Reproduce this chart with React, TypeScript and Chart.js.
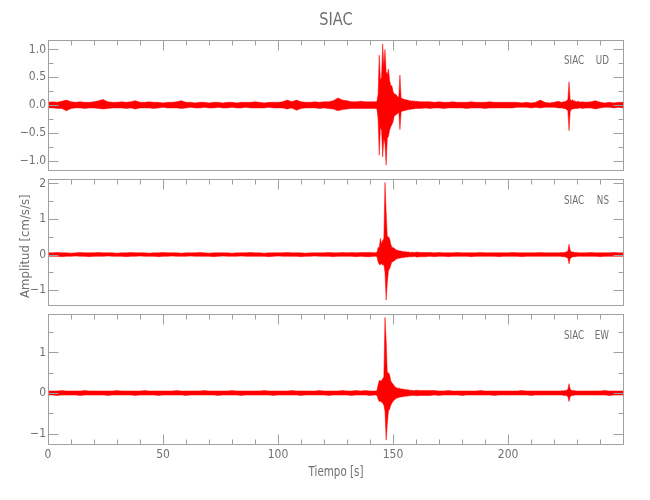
import React, { useEffect, useRef } from 'react';
import { Chart, registerables } from 'chart.js';

Chart.register(...registerables);

// ---- sampling of the trace envelopes (seconds) ----
const segStarts = [0, 142, 160, 222, 232];
const segSteps = [2, 0.5, 2, 0.5, 2];
const segCounts = [71, 36, 31, 20, 10];

// ---- UD component: upper / lower envelope of the trace (cm/s/s) ----
const udHi = [
  .05,.06,.05,.07,.09,.06,.05,.06,.05,.05, .06,.08,.10,.06,.05,.05,.06,.05,.06,.08,
  .05,.05,.06,.05,.05,.04,.05,.05,.06,.08, .05,.05,.04,.05,.05,.04,.05,.05,.04,.05,
  .05,.04,.05,.05,.05,.06,.05,.04,.05,.05, .05,.06,.09,.06,.09,.06,.05,.05,.06,.05,
  .06,.06,.08,.13,.09,.08,.06,.06,.07,.06, .06,
  .06,.06,.07,.2,.9,.45,.5,1.1,.7,1.0, .6,.55,.65,.45,.35,.35,.25,.2,.2,.18,
  .15,.14,.54,.13,.12,.11,.1,.1,.09,.09, .08,.08,.07,.08,.07,.07,
  .07,.06,.06,.06,.05,.06,.05,.05,.06,.05, .05,.05,.06,.05,.05,.05,.06,.05,.05,.05,
  .05,.05,.05,.04,.05,.04,.05,.09,.05,.04, .05,
  .07,.06,.05,.05,.06,.06,.07,.08,.1,.42, .1,.08,.1,.07,.08,.06,.06,.07,.06,.05,
  .06,.05,.06,.08,.05,.04,.05,.04,.05,.05,
];
const udLo = [
  -.05,-.05,-.06,-.06,-.10,-.06,-.05,-.05,-.06,-.05, -.05,-.06,-.07,-.06,-.05,-.05,-.05,-.06,-.05,-.07,
  -.05,-.05,-.05,-.06,-.05,-.04,-.05,-.05,-.05,-.06, -.05,-.04,-.05,-.05,-.04,-.05,-.05,-.04,-.05,-.05,
  -.04,-.05,-.05,-.04,-.05,-.05,-.05,-.05,-.04,-.05, -.05,-.05,-.07,-.05,-.09,-.06,-.05,-.05,-.05,-.06,
  -.05,-.06,-.07,-.10,-.08,-.07,-.06,-.06,-.06,-.06, -.06,
  -.06,-.06,-.07,-.25,-.9,-.4,-.45,-.93,-.6,-.7, -1.08,-.6,-.56,-.45,-.39,-.35,-.3,-.2,-.18,-.17,
  -.15,-.13,-.44,-.12,-.11,-.1,-.1,-.09,-.09,-.08, -.08,-.08,-.07,-.07,-.07,-.06,
  -.06,-.06,-.05,-.06,-.05,-.05,-.06,-.05,-.05,-.05, -.05,-.06,-.05,-.05,-.05,-.06,-.05,-.05,-.05,-.05,
  -.05,-.05,-.04,-.04,-.04,-.05,-.04,-.05,-.04,-.04, -.04,
  -.05,-.05,-.05,-.05,-.06,-.06,-.07,-.08,-.1,-.46, -.12,-.08,-.07,-.07,-.06,-.06,-.06,-.06,-.05,-.05,
  -.06,-.05,-.05,-.07,-.05,-.04,-.04,-.05,-.04,-.05,
];

// ---- NS component ----
const nsHi = [
  .05,.05,.06,.05,.05,.04,.05,.06,.05,.05, .05,.06,.05,.05,.05,.04,.05,.05,.06,.05,
  .05,.05,.04,.05,.05,.06,.05,.05,.05,.04, .05,.05,.05,.06,.05,.04,.05,.05,.05,.05,
  .04,.05,.05,.05,.06,.05,.05,.04,.05,.05, .05,.05,.06,.05,.05,.05,.04,.05,.05,.05,
  .05,.06,.05,.05,.06,.05,.06,.05,.06,.06, .06,
  .05,.06,.06,.2,.2,.46,.3,.4,.45,2.03, 1.2,.5,.5,.45,.3,.2,.2,.18,.15,.13,
  .12,.11,.1,.1,.09,.09,.08,.08,.07,.07, .07,.06,.06,.07,.06,.06,
  .07,.06,.06,.06,.05,.06,.05,.05,.05,.06, .05,.05,.05,.05,.06,.05,.05,.05,.05,.05,
  .05,.06,.05,.05,.05,.05,.05,.06,.05,.05, .05,
  .05,.05,.06,.05,.06,.06,.07,.08,.1,.29, .12,.08,.07,.07,.06,.06,.06,.05,.05,.05,
  .05,.05,.06,.05,.05,.05,.05,.06,.05,.05,
];
const nsLo = [
  -.05,-.05,-.05,-.06,-.05,-.05,-.04,-.05,-.05,-.06, -.05,-.05,-.05,-.04,-.05,-.05,-.05,-.06,-.05,-.05,
  -.04,-.05,-.05,-.05,-.06,-.05,-.05,-.04,-.05,-.05, -.05,-.04,-.05,-.05,-.05,-.05,-.06,-.05,-.04,-.05,
  -.05,-.05,-.04,-.05,-.05,-.05,-.05,-.05,-.06,-.05, -.04,-.05,-.05,-.05,-.05,-.06,-.05,-.05,-.04,-.05,
  -.05,-.05,-.06,-.05,-.05,-.05,-.05,-.06,-.05,-.06, -.06,
  -.05,-.05,-.06,-.2,-.28,-.28,-.25,-.3,-.28,-.5, -1.28,-.8,-.45,-.4,-.3,-.2,-.2,-.17,-.15,-.12,
  -.12,-.1,-.1,-.09,-.09,-.08,-.08,-.07,-.07,-.07, -.06,-.06,-.06,-.06,-.06,-.05,
  -.07,-.06,-.06,-.05,-.06,-.05,-.05,-.06,-.05,-.05, -.05,-.05,-.06,-.05,-.05,-.05,-.05,-.05,-.06,-.05,
  -.05,-.05,-.05,-.06,-.05,-.05,-.05,-.05,-.05,-.05, -.05,
  -.05,-.05,-.05,-.06,-.06,-.06,-.07,-.08,-.1,-.26, -.12,-.08,-.07,-.06,-.06,-.06,-.05,-.05,-.05,-.05,
  -.05,-.05,-.05,-.05,-.06,-.05,-.05,-.05,-.05,-.05,
];

// ---- EW component ----
const ewHi = [
  .05,.05,.05,.06,.05,.05,.05,.05,.06,.05, .05,.05,.05,.05,.05,.06,.05,.05,.05,.05,
  .05,.06,.05,.05,.05,.05,.05,.05,.06,.05, .05,.05,.05,.05,.06,.05,.05,.05,.05,.05,
  .06,.05,.05,.05,.05,.05,.05,.06,.05,.05, .05,.05,.05,.06,.05,.05,.05,.05,.05,.06,
  .05,.05,.05,.05,.06,.05,.05,.06,.05,.06, .05,
  .05,.05,.06,.2,.31,.3,.3,.35,.4,1.86, 1.3,.5,.5,.45,.3,.25,.22,.18,.15,.13,
  .12,.12,.11,.1,.1,.09,.09,.08,.08,.08, .07,.07,.07,.06,.06,.06,
  .07,.06,.06,.06,.06,.05,.05,.06,.05,.05, .05,.05,.05,.05,.06,.05,.05,.05,.05,.05,
  .05,.05,.05,.06,.05,.05,.05,.05,.05,.05, .05,
  .05,.05,.05,.06,.05,.06,.06,.07,.09,.23, .1,.07,.06,.06,.06,.05,.05,.05,.05,.05,
  .05,.05,.05,.05,.05,.06,.05,.05,.05,.05,
];
const ewLo = [
  -.05,-.05,-.06,-.05,-.05,-.05,-.05,-.06,-.05,-.05, -.05,-.05,-.05,-.06,-.05,-.05,-.05,-.05,-.05,-.06,
  -.05,-.05,-.05,-.05,-.06,-.05,-.05,-.05,-.05,-.05, -.06,-.05,-.05,-.05,-.05,-.05,-.05,-.06,-.05,-.05,
  -.05,-.05,-.06,-.05,-.05,-.05,-.05,-.05,-.05,-.06, -.05,-.05,-.05,-.05,-.05,-.06,-.05,-.05,-.05,-.05,
  -.05,-.06,-.05,-.05,-.05,-.05,-.06,-.05,-.05,-.05, -.06,
  -.05,-.05,-.06,-.15,-.21,-.2,-.22,-.25,-.3,-.45, -1.16,-.76,-.44,-.4,-.3,-.25,-.2,-.18,-.15,-.13,
  -.12,-.11,-.1,-.1,-.09,-.09,-.08,-.08,-.08,-.07, -.07,-.07,-.06,-.06,-.06,-.06,
  -.07,-.06,-.06,-.06,-.05,-.06,-.05,-.05,-.05,-.05, -.06,-.05,-.05,-.05,-.05,-.05,-.05,-.06,-.05,-.05,
  -.05,-.05,-.05,-.05,-.05,-.06,-.05,-.05,-.05,-.05, -.05,
  -.05,-.05,-.05,-.05,-.06,-.06,-.06,-.07,-.09,-.21, -.1,-.07,-.06,-.06,-.05,-.05,-.05,-.05,-.05,-.05,
  -.05,-.05,-.05,-.05,-.05,-.05,-.06,-.05,-.05,-.05,
];

// ---- axes ----
const xRange = [0, 250.4];
const xTicks = [0,10,20,30,40,50,60,70,80,90,100,110,120,130,140,150,160,170,180,190,200,210,220,230,240];
const xMajor = [0, 50, 100, 150, 200];
const xLabels = ['0', '50', '100', '150', '200'];

const udRange = [-1.18, 1.17];
const udTicks = [-1, -0.75, -0.5, -0.25, 0, 0.25, 0.5, 0.75, 1];
const udMajor = [-1, -0.5, 0, 0.5, 1];
const udLabels = ['\u22121.0', '\u22120.5', '0.0', '0.5', '1.0'];

const nsRange = [-1.44, 2.12];
const nsTicks = [-1, -0.5, 0, 0.5, 1, 1.5, 2];
const nsMajor = [-1, 0, 1, 2];
const nsLabels = ['\u22121', '0', '1', '2'];

const ewRange = [-1.28, 1.94];
const ewTicks = [-1, -0.5, 0, 0.5, 1, 1.5];
const ewMajor = [-1, 0, 1];
const ewLabels = ['\u22121', '0', '1'];

const stationName = 'SIAC';
const components = ['UD', 'NS', 'EW'];
const titleText = 'SIAC';
const xTitle = 'Tiempo [s]';
const yTitle = 'Amplitud [cm/s/s]';

// ---- styles ----
const RED = '#ff0000';
const AXIS = '#a0a0a0';
const TEXT = '#707070';
const FONT = "'Liberation Sans Narrow', 'DejaVu Sans Condensed', 'Arial Narrow', sans-serif";

const times: number[] = [];
segStarts.forEach((s, k) => {
  for (let i = 0; i < segCounts[k]; i++) times.push(s + i * segSteps[k]);
});
const toPts = (vals: number[]) => vals.map((v, i) => ({ x: times[i], y: v }));

type PanelCfg = {
  hi: number[]; lo: number[]; range: number[]; ticks: number[]; major: number[]; labels: string[];
  comp: string; top: number; height: number; padTop: number; padBottom: number;
  showX: boolean; xHeight: number; title?: boolean; yTitle?: boolean; xTitle?: boolean;
};

const panels: PanelCfg[] = [
  { hi: udHi, lo: udLo, range: udRange, ticks: udTicks, major: udMajor, labels: udLabels, comp: components[0],
    top: 0, height: 180, padTop: 40, padBottom: 4, showX: false, xHeight: 0, title: true },
  { hi: nsHi, lo: nsLo, range: nsRange, ticks: nsTicks, major: nsMajor, labels: nsLabels, comp: components[1],
    top: 170, height: 145, padTop: 5, padBottom: 4, showX: false, xHeight: 0, yTitle: true },
  { hi: ewHi, lo: ewLo, range: ewRange, ticks: ewTicks, major: ewMajor, labels: ewLabels, comp: components[2],
    top: 305, height: 195, padTop: 5, padBottom: 0, showX: true, xHeight: 55, xTitle: true },
];

function drawText(ctx: CanvasRenderingContext2D, text: string, x: number, y: number, size: number,
                  align: CanvasTextAlign, sx = 1, rot = 0) {
  ctx.save();
  ctx.translate(x, y);
  if (rot) ctx.rotate(rot);
  ctx.scale(sx, 1);
  ctx.font = `${size}px ${FONT}`;
  ctx.fillStyle = TEXT;
  ctx.textAlign = align;
  ctx.textBaseline = 'middle';
  ctx.fillText(text, 0, 0);
  ctx.restore();
}

function makeFramePlugin(cfg: PanelCfg) {
  return {
    id: 'seisFrame',
    afterDraw(chart: any) {
      const { ctx, chartArea: a, scales } = chart;
      const xs = scales.x, ys = scales.y;
      const L = Math.round(a.left) + 0.5, R = Math.round(a.right) - 0.5;
      const T = Math.round(a.top) + 0.5, B = Math.round(a.bottom) - 0.5;
      ctx.save();
      ctx.strokeStyle = AXIS;
      ctx.lineWidth = 1;
      ctx.strokeRect(L, T, R - L, B - T);
      ctx.beginPath();
      cfg.ticks.forEach((v) => {
        const py = Math.round(ys.getPixelForValue(v)) + 0.5;
        const len = cfg.major.includes(v) ? 10 : 5;
        ctx.moveTo(L, py); ctx.lineTo(L + len, py);
        ctx.moveTo(R, py); ctx.lineTo(R - len, py);
      });
      xTicks.forEach((v) => {
        const px = Math.round(xs.getPixelForValue(v)) + 0.5;
        const len = xMajor.includes(v) ? 10 : 5;
        ctx.moveTo(px, T); ctx.lineTo(px, T + len);
        if (cfg.showX) { ctx.moveTo(px, B); ctx.lineTo(px, B - len); }
      });
      ctx.stroke();
      ctx.restore();

      drawText(ctx, stationName, a.right - 60, a.top + 21, 13, 'left', 0.75);
      drawText(ctx, cfg.comp, a.right - 15, a.top + 21, 13, 'right', 0.75);
      if (cfg.title) drawText(ctx, titleText, (a.left + a.right) / 2, 20, 18, 'center', 0.9);
      if (cfg.yTitle) drawText(ctx, yTitle, 26, a.top + 67, 13, 'center', 1, -Math.PI / 2);
      if (cfg.xTitle) drawText(ctx, xTitle, (a.left + a.right) / 2, a.bottom + 27, 14, 'center', 0.82);
    },
  };
}

function Panel({ cfg }: { cfg: PanelCfg }) {
  const ref = useRef<HTMLCanvasElement | null>(null);
  useEffect(() => {
    if (!ref.current) return;
    const tickFont = { family: FONT, size: 12 };
    const chart = new Chart(ref.current, {
      type: 'line',
      data: {
        datasets: [
          { data: toPts(cfg.hi), borderColor: RED, backgroundColor: RED, borderWidth: 0.5,
            pointRadius: 0, fill: '+1', tension: 0 },
          { data: toPts(cfg.lo), borderColor: RED, backgroundColor: RED, borderWidth: 0.5,
            pointRadius: 0, fill: false, tension: 0 },
        ],
      } as any,
      options: {
        responsive: false,
        animation: false,
        events: [],
        layout: { padding: { top: cfg.padTop, bottom: cfg.padBottom, left: 0, right: 26 } },
        plugins: { legend: { display: false }, tooltip: { enabled: false }, title: { display: false } },
        scales: {
          x: {
            type: 'linear', min: xRange[0], max: xRange[1], display: cfg.showX,
            afterFit: (s: any) => { s.height = cfg.xHeight; },
            afterBuildTicks: (s: any) => { s.ticks = xMajor.map((v) => ({ value: v })); },
            ticks: {
              autoSkip: false, maxRotation: 0, padding: 3, font: tickFont, color: TEXT,
              callback: (v: any) => { const i = xMajor.indexOf(Number(v)); return i >= 0 ? xLabels[i] : ''; },
            },
            grid: { display: false, drawTicks: false },
            border: { display: false },
          },
          y: {
            type: 'linear', min: cfg.range[0], max: cfg.range[1],
            afterFit: (s: any) => { s.width = 48; },
            afterBuildTicks: (s: any) => { s.ticks = cfg.major.map((v) => ({ value: v })); },
            ticks: {
              autoSkip: false, padding: 2, font: tickFont, color: TEXT,
              callback: (v: any) => { const i = cfg.major.indexOf(Number(v)); return i >= 0 ? cfg.labels[i] : ''; },
            },
            grid: { display: false, drawTicks: false },
            border: { display: false },
          },
        },
      } as any,
      plugins: [makeFramePlugin(cfg)],
    });
    return () => chart.destroy();
  }, [cfg]);
  return (
    <canvas
      ref={ref}
      width={650}
      height={cfg.height}
      style={{ position: 'absolute', left: 0, top: cfg.top, width: 650, height: cfg.height }}
    />
  );
}

export default function App() {
  return (
    <div style={{ position: 'absolute', left: 0, top: 0, width: 650, height: 500, background: '#ffffff' }}>
      {panels.map((p, i) => (
        <Panel key={i} cfg={p} />
      ))}
    </div>
  );
}
